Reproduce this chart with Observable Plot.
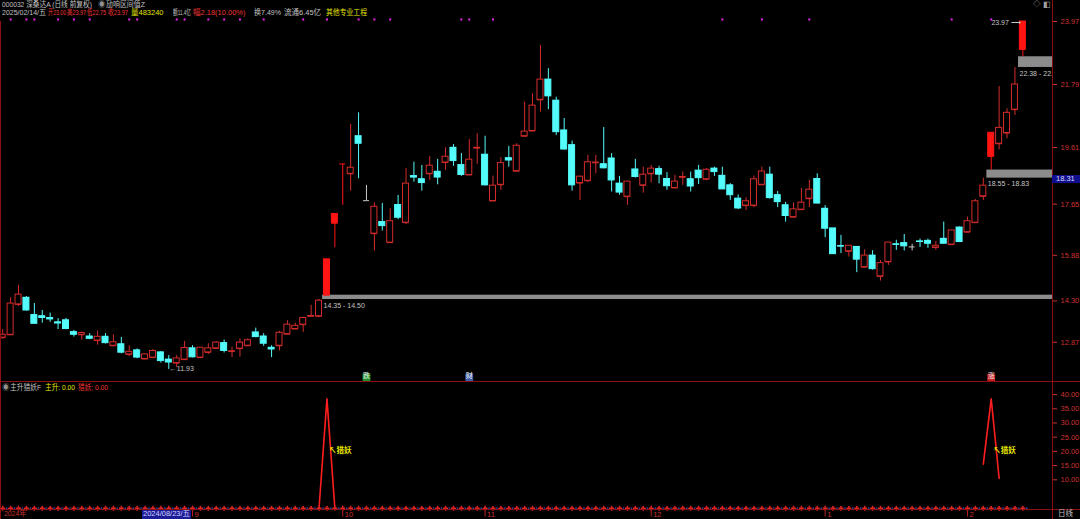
<!DOCTYPE html>
<html><head><meta charset="utf-8">
<script src="https://cdn.jsdelivr.net/npm/d3@7"></script>
<script src="https://cdn.jsdelivr.net/npm/@observablehq/plot@0.6"></script>
<style>
html,body{margin:0;padding:0;background:#000;}
#root{position:relative;width:1080px;height:519px;overflow:hidden;background:#000;font-family:"Liberation Sans","Noto Sans CJK SC",sans-serif;}
.t{position:absolute;font-size:7.5px;line-height:8px;white-space:nowrap;z-index:5;transform-origin:0 50%;}
.ln{position:absolute;background:#8c1010;z-index:4;}
.pane{position:absolute;left:0;}
svg{display:block}
</style></head><body><div id="root"></div>
<script>
// ---------- data (trading-day index: 0 = 2024-09-02) ----------
const firstIdx = -24;
const open = [
13.03,13.13,14.18,14.41,13.81,13.77,13.71,13.56,13.63,13.22,
13.13,13.07,12.93,13.06,12.75,12.80,12.45,12.59,12.29,12.34,
12.52,12.27,12.15,12.27,12.66,12.34,12.52,12.66,12.84,12.55,
12.65,12.75,13.21,13.07,12.68,12.75,13.15,13.33,13.48,13.77,
13.77,14.50,16.99,19.04,18.70,20.00,17.77,16.63,17.03,16.32,
17.62,17.01,18.62,18.51,18.70,18.77,19.09,19.60,19.00,18.66,
19.59,19.36,17.76,18.32,19.24,18.79,20.00,20.18,21.26,21.96,
21.23,20.20,19.69,18.38,18.46,19.08,19.03,19.23,18.36,17.91,
18.85,18.30,18.70,18.86,18.52,18.21,18.58,18.51,18.81,18.51,
18.88,18.63,18.30,17.84,17.60,17.60,18.32,18.67,17.96,17.61,
17.20,17.46,17.84,18.52,17.49,16.81,16.20,16.02,16.17,15.47,
15.87,15.15,15.65,16.26,16.30,16.17,16.36,16.38,16.15,16.45,
16.25,16.84,16.68,17.01,17.92,19.30,19.74,20.11,20.92,23.00];
const high = [
13.31,14.41,14.84,14.45,14.21,13.97,13.88,13.69,13.70,13.28,
13.22,13.17,13.26,13.17,13.13,13.04,12.75,12.64,12.47,12.62,
12.55,12.41,12.41,12.90,12.75,12.69,12.82,12.90,12.95,12.70,
12.99,12.99,13.36,13.17,12.75,13.25,13.62,13.53,13.74,14.15,
14.35,15.74,17.31,19.04,20.41,20.81,18.30,17.70,17.67,17.49,
17.95,18.88,19.10,18.99,19.30,19.20,19.60,19.71,19.40,19.89,
20.09,20.00,18.62,19.26,19.65,19.74,21.18,21.47,23.14,22.34,
21.35,20.61,19.83,18.62,19.34,19.34,20.30,19.40,18.61,18.43,
19.20,18.93,18.99,18.96,18.74,18.65,18.76,18.76,18.99,18.88,
18.93,18.93,18.36,17.97,17.87,18.62,18.93,18.93,18.09,17.71,
17.69,18.19,18.47,18.70,17.60,16.81,16.57,16.21,16.17,16.07,
16.04,15.70,16.32,16.40,16.60,16.26,16.44,16.44,16.36,17.03,
16.74,16.86,17.20,17.81,18.55,20.12,21.72,20.95,22.38,23.97];
const low = [
12.98,13.12,14.11,13.95,13.49,13.53,13.56,13.31,13.30,13.05,
12.94,12.96,12.77,12.81,12.74,12.47,12.38,12.30,12.28,12.33,
12.15,11.93,11.99,12.24,12.33,12.32,12.45,12.63,12.50,12.34,
12.36,12.72,13.03,12.73,12.34,12.57,13.14,13.31,13.21,13.76,
13.72,14.50,16.14,17.61,18.10,18.53,17.77,16.03,16.72,16.32,
17.11,16.94,18.41,18.10,18.47,18.32,18.82,18.96,18.61,18.66,
19.03,18.28,17.76,18.13,18.93,18.79,20.00,20.18,20.84,20.92,
20.03,19.52,18.10,17.78,18.40,18.70,18.87,18.07,17.96,17.61,
18.55,18.03,18.38,18.35,18.13,18.21,18.30,18.07,18.33,18.46,
18.61,18.16,17.78,17.46,17.43,17.53,18.32,17.82,17.53,17.03,
17.20,17.46,17.53,17.67,16.49,15.92,15.94,15.82,15.28,15.47,
15.37,14.99,15.53,16.05,16.03,16.03,16.15,16.12,16.05,16.28,
16.22,16.32,16.68,17.01,17.78,18.83,19.53,19.91,20.72,22.75];
const close = [
13.13,14.21,14.52,13.97,13.51,13.71,13.66,13.52,13.33,13.13,
13.19,12.99,13.06,12.84,12.87,12.51,12.54,12.34,12.45,12.57,
12.22,12.17,12.31,12.67,12.35,12.68,12.66,12.86,12.57,12.56,
12.86,12.94,13.05,12.82,12.62,13.20,13.48,13.44,13.71,13.78,
14.31,15.74,17.31,19.04,18.91,19.74,17.77,17.56,16.89,17.06,
17.18,18.36,18.57,18.38,18.98,18.57,19.29,19.14,18.66,19.19,
19.60,18.30,18.29,19.07,19.16,19.67,20.16,21.06,21.96,21.38,
20.14,19.54,18.30,18.60,19.10,19.09,18.89,18.47,18.05,18.43,
18.59,18.67,18.88,18.67,18.27,18.43,18.59,18.26,18.55,18.84,
18.76,18.16,17.96,17.50,17.75,18.51,18.78,17.86,17.72,17.24,
17.47,17.70,18.15,17.67,16.80,15.92,16.19,16.21,15.73,15.87,
15.40,15.61,16.32,16.25,16.19,16.17,16.34,16.28,16.21,16.28,
16.74,16.34,17.06,17.75,18.29,20.12,20.29,20.81,21.79,23.97];

const priceTicks = [23.97, 21.79, 19.61, 17.65, 15.88, 14.30, 12.87];
const gapStart = [16, 100, 104];
const gapLow   = [14.35, 18.55, 22.38];
const gapHigh  = [14.50, 18.83, 22.75];
const infoDotIdx = [-23,-21,-20,-17,-15,-13,-8,-7,-2,-1,2,4,6,9,14,17,21,23,25,34,35,38,67,72,78,96,101];
const eventIdx  = [22, 35, 101];
const eventText = ["跌", "财", "涨"];
const monthTickIdx = [0, 19, 37, 58, 80, 98];
const monthLabels  = ["9", "10", "11", "12", "1", "2"];
const cursorIdx = -6, cursorLabel = "2024/08/23/五";
const indTicks = [40, 35, 30, 25, 20, 15, 10];
const sigIdx   = [16, 17, 18, 100, 101, 102];
const sigVal   = [0, 38.5, 0, 15.5, 38.5, 10.5];
const sigGroup = [1, 1, 1, 2, 2, 2];

// ---------- derived tables ----------
const candles = open.map((o, k) => ({i: firstIdx + k, o, h: high[k], l: low[k], c: close[k], pc: k > 0 ? close[k - 1] : null}));
const kind = d => (d.pc != null && d.c >= Math.round(d.pc * 110) / 100 - 0.005) ? "limit"
  : d.c > d.o ? "up" : d.c < d.o ? "down" : "flat";
const COL = {limit: "#ff1414", up: "#d42c2c", down: "#54fcfc", flat: "#c8c8c8"};
const col = d => COL[kind(d)];
const fil = d => kind(d) === "up" ? "#000" : COL[kind(d)];
const gaps = gapStart.map((s, k) => ({s, lo: gapLow[k], hi: gapHigh[k]}));
const sig = sigIdx.map((i, k) => ({i, v: sigVal[k], g: sigGroup[k]}));
const peaks = d3.groups(sig, d => d.g).map(([, a]) => d3.greatest(a, d => d.v));
const events = eventIdx.map((i, k) => ({i, t: eventText[k]}));
const hiC = candles[d3.maxIndex(candles, d => d.h)];
const loC = candles[d3.minIndex(candles, d => d.l)];

const xDomain = [-24.28, 108.75];
const FONT = "'Liberation Sans','Noto Sans CJK SC',sans-serif";
const style = {background: "transparent", color: "#cc3232", fontFamily: FONT, fontSize: "7.5px", overflow: "visible"};
const HW = 0.38;

const root = document.getElementById("root");
function pane(node, top) { const d = document.createElement("div"); d.className = "pane"; d.style.top = top + "px"; d.appendChild(node); root.appendChild(d); }
function txt(s, x, y, color, w, extra = {}) {
  const e = document.createElement("div"); e.className = "t"; e.textContent = s;
  e.style.left = x + "px"; e.style.top = y + "px"; e.style.color = color;
  Object.assign(e.style, extra); root.appendChild(e);
  if (w) { const bw = e.getBoundingClientRect().width; if (bw > w) e.style.transform = `scaleX(${(w / bw).toFixed(3)})`; }
  return e;
}
function line(x, y, w, h, c) { const e = document.createElement("div"); e.className = "ln"; Object.assign(e.style, {left: x + "px", top: y + "px", width: w + "px", height: h + "px"}); if (c) e.style.background = c; root.appendChild(e); }

// ---------- price pane ----------
const price = Plot.plot({
  width: 1080, height: 381, marginLeft: 0, marginRight: 28, marginTop: 0, marginBottom: 0,
  style,
  x: {domain: xDomain, axis: null},
  y: {domain: [11.513, 24.697], axis: null},
  marks: [
    Plot.axisY(priceTicks, {anchor: "right", label: null, tickFormat: d => d.toFixed(2), tickSize: 4, tickPadding: 4, color: "#cc3232", fontSize: 7.5}),
    Plot.rect(gaps, {x1: d => d.s + 0.45, x2: () => xDomain[1], y1: "lo", y2: "hi", fill: "#8c8c8c"}),
    Plot.text(gaps, {x: d => d.s + 0.45, y: "lo", text: d => `${d.lo.toFixed(2)} - ${d.hi.toFixed(2)}`, textAnchor: "start", dx: 1, dy: 6, fill: "#c4c4c4", fontSize: 7, clip: true}),
    Plot.ruleX(candles, {x: "i", y1: "l", y2: "h", stroke: col}),
    Plot.rect(candles, {x1: d => d.i - HW, x2: d => d.i + HW, y1: "o", y2: "c", fill: fil, stroke: col}),
    Plot.ruleY(candles, {y: "o", x1: d => d.i - HW, x2: d => d.i + HW, stroke: col}),
    Plot.text([hiC], {x: "i", y: "h", text: d => d.h.toFixed(2) + " ⟶", textAnchor: "end", dx: -2, dy: 1, fill: "#c4c4c4", fontSize: 7}),
    Plot.text([loC], {x: "i", y: "l", text: d => "←" + d.l.toFixed(2), textAnchor: "start", dx: 1, dy: -1, fill: "#c4c4c4", fontSize: 7}),
    Plot.dot(infoDotIdx, {x: d => d, frameAnchor: "top", dy: 19, r: 1.1, symbol: "square", fill: "#ff22ff"}),
    Plot.dot(events, {x: "i", frameAnchor: "bottom", dy: -4, r: 4.4, symbol: "square", fill: (d, k) => ["#1f8f2a", "#3b5aa8", "#c81e1e"][k]}),
    Plot.text(events, {x: "i", frameAnchor: "bottom", dy: -4, text: "t", fill: "#f0f0f0", fontSize: 7})
  ]
});
pane(price, 0);
const xs = price.scale("x");

// ---------- indicator pane ----------
const ind = Plot.plot({
  width: 1080, height: 129, marginLeft: 0, marginRight: 28, marginTop: 0, marginBottom: 2.3,
  style,
  x: {domain: xDomain, axis: null},
  y: {domain: [0, 44.61], axis: null},
  marks: [
    Plot.axisY(indTicks, {anchor: "right", label: null, tickFormat: d => d.toFixed(2), tickSize: 4, tickPadding: 4, color: "#cc3232", fontSize: 7.5}),
    Plot.line(sig, {x: "i", y: "v", z: "g", stroke: "#ff1e1e", strokeWidth: 1.6}),
    Plot.text(peaks, {x: "i", y: d => d.v / 2, text: () => "↖猎妖", textAnchor: "start", dx: 2, dy: -3, fill: "#e8e800", fontSize: 7.5, fontWeight: "bold"}),
    Plot.dot(candles, {x: d => d.i + 0.5, y: 0, r: 0.9, fill: "#2c3c9c"}),
    Plot.dot(candles, {x: "i", y: 0, symbol: "plus", r: 1.7, stroke: "#e02424"})
  ]
});
pane(ind, 381);

// ---------- date axis ----------
const xa = Plot.plot({
  width: 1080, height: 10, marginLeft: 0, marginRight: 28, marginTop: 0, marginBottom: 0,
  style,
  x: {domain: xDomain, axis: null},
  y: {domain: [0, 1], axis: null},
  marks: [
    Plot.ruleX(monthTickIdx, {x: d => d, y1: 1, y2: 0.25, stroke: "#b81e1e"}),
    Plot.text(monthTickIdx, {x: d => d, y: 0.45, text: (d, k) => monthLabels[k], textAnchor: "start", dx: 2, fill: "#cc3232", fontSize: 7.5})
  ]
});
pane(xa, 509);

// ---------- frame ----------
line(1052, 0, 1, 519);
line(0, 381, 1080, 1);
line(0, 509, 1080, 1);
line(0, 21, 1, 498);

// ---------- header texts ----------
const G = "#c0c0c0", R = "#f03434", Y = "#e4e400";
txt("000032 深桑达A (日线 前复权)", 2, 1, G, 90);
txt("◉", 98, 1, "#909090");
txt("劢响区间值Z", 106, 1, G, 39);
txt("◇", 1033, 1, "#a0a0a0");
txt("◧", 1043, 1, "#a0a0a0");
txt("2025/02/14/五", 2, 9, G, 44);
txt("开23.00", 48, 9, R, 18);
txt("高23.97", 67, 9, R, 19);
txt("低22.75", 87, 9, R, 19);
txt("收23.97", 108, 9, R, 20);
txt("量483240", 131, 9, Y, 37);
txt("额11.4亿", 173, 9, G, 18);
txt("幅2.18(10.00%)", 193, 9, R, 58);
txt("换7.49%", 254, 9, G, 27);
txt("流通6.45亿", 284, 9, G, 39);
txt("其他专业工程", 326, 9, Y, 41);

// lower pane header
txt("◉", 2, 384, "#909090");
txt("主升猎妖F", 10, 384, G, 31);
txt("主升: 0.00", 45, 384, Y, 30);
txt("猎妖: 0.00", 78, 384, R, 30);

// cursor price label
txt("18.31", 1052, 175, "#d8d8ff", 0, {background: "#10108c", width: "24px", paddingLeft: "4px", height: "8px"});

// bottom labels
txt("2024年", 4, 510, "#cc3232", 22);
txt(cursorLabel, Math.round(xs.apply(cursorIdx)) - 3, 510, "#d0d0ff", 0, {background: "#1c1c96", padding: "0 1px", height: "9px"});
txt("日线", 1058, 510, G);
</script></body></html>
